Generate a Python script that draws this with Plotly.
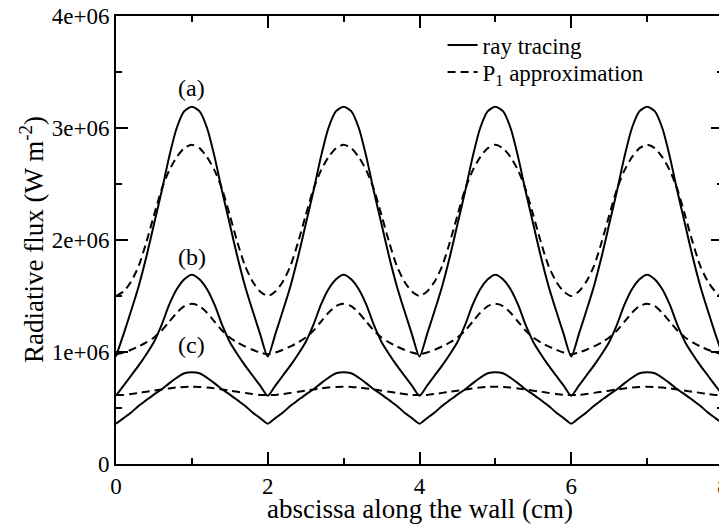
import numpy as np
import plotly.graph_objects as go

# Half-period sampling (x from 0 to 1 cm); curves are symmetric about x=1 and repeat every 2 cm
x_half = [0.0, 0.1, 0.2, 0.3, 0.4, 0.5, 0.6, 0.7, 0.8, 0.9, 1.0]

ray_a = [0.96e6, 1.16e6, 1.37e6, 1.59e6, 1.85e6, 2.14e6, 2.43e6, 2.74e6, 3.00e6, 3.15e6, 3.19e6]
p1_a = [1.50e6, 1.54e6, 1.63e6, 1.77e6, 1.98e6, 2.22e6, 2.45e6, 2.62e6, 2.74e6, 2.82e6, 2.85e6]
ray_b = [0.61e6, 0.70e6, 0.79e6, 0.88e6, 0.98e6, 1.09e6, 1.24e6, 1.42e6, 1.56e6, 1.65e6, 1.69e6]
p1_b = [0.98e6, 0.995e6, 1.02e6, 1.05e6, 1.085e6, 1.13e6, 1.19e6, 1.27e6, 1.35e6, 1.41e6, 1.43e6]
ray_c = [0.36e6, 0.41e6, 0.46e6, 0.52e6, 0.57e6, 0.62e6, 0.665e6, 0.72e6, 0.77e6, 0.81e6, 0.82e6]
p1_c = [0.615e6, 0.617e6, 0.625e6, 0.635e6, 0.645e6, 0.655e6, 0.665e6, 0.675e6, 0.683e6, 0.688e6, 0.69e6]

n_periods = 4
period = 2.0

x_ticks = [0, 2, 4, 6, 8]
x_ticktext = ["0", "2", "4", "6", "8"]
y_ticks = [0, 1e6, 2e6, 3e6, 4e6]
y_ticktext = ["0", "1e+06", "2e+06", "3e+06", "4e+06"]

labels = ["(a)", "(b)", "(c)"]
label_x = [1.0, 1.0, 1.0]
label_y = [3.36e6, 1.85e6, 1.06e6]

legend_names = ["ray tracing", "P<sub>1</sub> approximation"]
x_title = "abscissa along the wall (cm)"
y_title = "Radiative flux (W m<sup>-2</sup>)"


def full_period(xh, yh):
    # mirror half period to full period, then repeat
    xs = list(xh) + [2 * xh[-1] - v for v in reversed(xh[:-1])]
    ys = list(yh) + list(reversed(yh[:-1]))
    X, Y = [], []
    for k in range(n_periods):
        start = 0 if k == 0 else 1
        X += [v + k * period for v in xs[start:]]
        Y += ys[start:]
    return X, Y


FONT = "Liberation Serif"

fig = go.Figure()
series = [(ray_a, "solid"), (p1_a, "dash"), (ray_b, "solid"), (p1_b, "dash"), (ray_c, "solid"), (p1_c, "dash")]
shown = set()
for yh, dash in series:
    X, Y = full_period(x_half, yh)
    is_solid = dash == "solid"
    name = legend_names[0] if is_solid else legend_names[1]
    fig.add_trace(go.Scatter(
        x=X, y=Y, mode="lines",
        line=dict(color="black", width=2, dash="solid" if is_solid else "8px,5px",
                  shape="spline", smoothing=0.7),
        name=name, legendgroup=name, showlegend=name not in shown,
        legend="legend" if is_solid else "legend2",
    ))
    shown.add(name)

for t, xv, yv in zip(labels, label_x, label_y):
    fig.add_annotation(x=xv, y=yv, text=t, showarrow=False,
                       font=dict(family=FONT, size=24, color="black"))

# axis titles placed as paper annotations
fig.add_annotation(x=0.5, y=0, xref="paper", yref="paper", yanchor="top", yshift=-28,
                   text=x_title, showarrow=False, font=dict(family=FONT, size=27, color="black"))
fig.add_annotation(x=0, y=0.5, xref="paper", yref="paper", xanchor="center", yanchor="middle",
                   xshift=-84, textangle=-90,
                   text=y_title, showarrow=False, font=dict(family=FONT, size=27, color="black"))

axis_common = dict(
    showgrid=False, zeroline=False, showline=True, linecolor="black", linewidth=2,
    mirror="allticks", ticks="inside", ticklen=12, tickwidth=1.5, tickcolor="black",
    tickfont=dict(family=FONT, size=23, color="black"), automargin=False,
    ticklabeloverflow="allow",
)

legend_common = dict(xanchor="left", yanchor="top", bgcolor="rgba(0,0,0,0)",
                     font=dict(family=FONT, size=23, color="black"), itemwidth=30)

# The page body has an 8px margin, so the margins are shifted to compensate.
fig.update_layout(
    width=727, height=525,
    margin=dict(l=108, r=12, t=8, b=69),
    paper_bgcolor="white", plot_bgcolor="white",
    font=dict(family=FONT, color="black"),
    showlegend=True,
    legend=dict(x=0.538, y=0.983, **legend_common),
    legend2=dict(x=0.538, y=0.983 - 27 / 448, **legend_common),
    xaxis=dict(range=[0, 8], tickvals=x_ticks, ticktext=x_ticktext,
               minor=dict(dtick=1, ticks="inside", ticklen=6, tickcolor="black", tickwidth=1.5, showgrid=False),
               **axis_common),
    yaxis=dict(range=[0, 4e6], tickvals=y_ticks, ticktext=y_ticktext,
               minor=dict(dtick=5e5, ticks="inside", ticklen=6, tickcolor="black", tickwidth=1.5, showgrid=False),
               **axis_common),
)

fig.write_html("out.html")
